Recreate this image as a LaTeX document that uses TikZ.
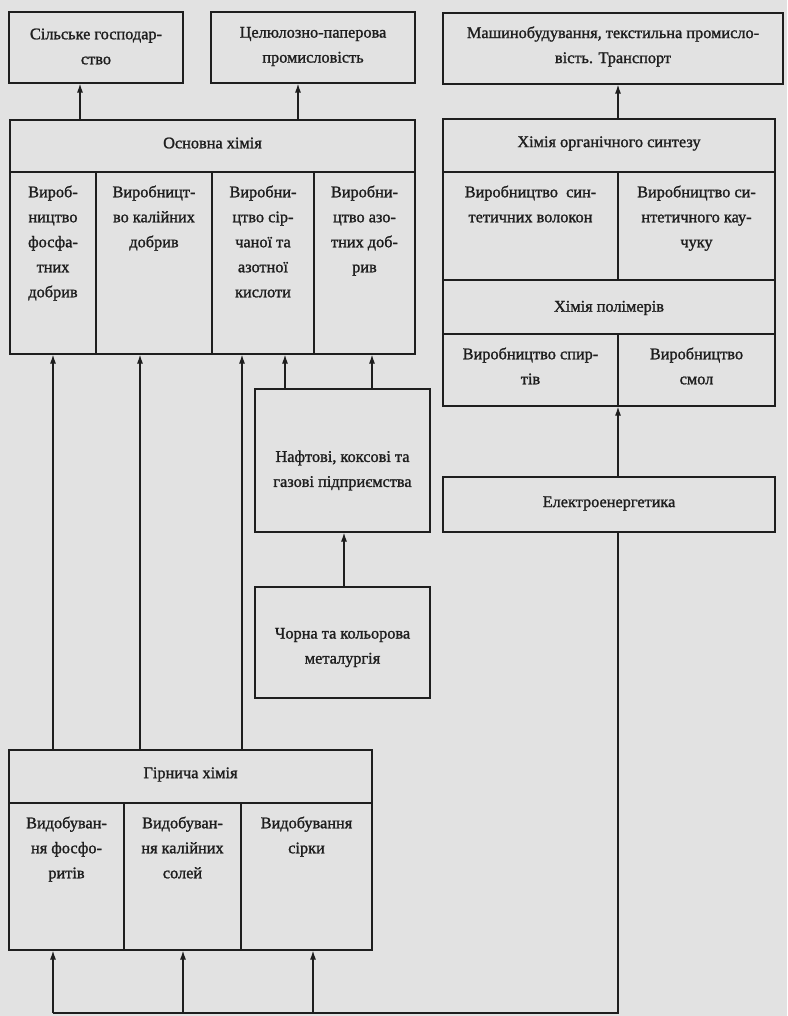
\documentclass[tikz,border=0pt]{standalone}
\usepackage{fontspec}
\setmainfont{Liberation Serif}[FakeBold=1.3]
\usetikzlibrary{fit,arrows.meta}
\definecolor{ink}{HTML}{1E1E1E}
\definecolor{paper}{HTML}{E2E2E2}
\tikzset{
  box/.style={draw=ink, line width=1.2pt, inner sep=0pt},
  lbl/.style={text=ink, align=center, inner sep=0pt, font=\fontsize{16.3}{25}\selectfont},
  toplbl/.style={lbl, anchor=north, yshift=-14pt},
  arr/.style={-{Latex[length=9pt,width=6pt]}, draw=ink, line width=1.2pt},
  wire/.style={draw=ink, line width=1.2pt}
}
\begin{document}
\begin{tikzpicture}[x=1pt,y=-1pt]
\fill[paper] (0,0) rectangle (787,1016);
\useasboundingbox (0,0) rectangle (787,1016);

% top row
\node[box, fit={(9,12) (183,83)}] (s1) {};
\node[lbl] (s1t) at ([yshift=1pt]s1.center) {Сільське господар-\\ство};
\node[box, fit={(211,12) (415,83)}] (s2) {};
\node[lbl] (s2t) at ([yshift=1pt]s2.center) {Целюлозно-паперова\\промисловість};
\node[box, fit={(443,13) (783,84)}] (s3) {};
\node[lbl] (s3t) at ([yshift=2pt]s3.center) {Машинобудування, текстильна промисло-\\вість. Транспорт};

% Основна хімія
\node[box, fit={(10,120) (415,172)}] (osn) {};
\node[lbl] (osnt) at ([yshift=3pt]osn.center) {Основна хімія};
\node[box, fit={(10,172) (96,354)}] (o1) {};
\node[toplbl] (o1t) at (o1.north) {Вироб-\\ництво\\фосфа-\\тних\\добрив};
\node[box, fit={(96,172) (212,354)}] (o2) {};
\node[toplbl] (o2t) at (o2.north) {Виробницт-\\во калійних\\добрив};
\node[box, fit={(212,172) (314,354)}] (o3) {};
\node[toplbl] (o3t) at (o3.north) {Виробни-\\цтво сір-\\чаної та\\азотної\\кислоти};
\node[box, fit={(314,172) (415,354)}] (o4) {};
\node[toplbl] (o4t) at (o4.north) {Виробни-\\цтво азо-\\тних доб-\\рив};

% Хімія органічного синтезу
\node[box, fit={(443,119) (775,172)}] (syn) {};
\node[lbl] (synt) at ([yshift=2pt]syn.center) {Хімія органічного синтезу};
\node[box, fit={(443,172) (618,280)}] (sv) {};
\node[toplbl] (svt) at (sv.north) {Виробництво\enspace син-\\тетичних волокон};
\node[box, fit={(618,172) (775,280)}] (sk) {};
\node[toplbl] (skt) at (sk.north) {Виробництво си-\\нтетичного кау-\\чуку};
\node[box, fit={(443,280) (775,334)}] (pol) {};
\node[lbl] (polt) at ([yshift=-1pt]pol.center) {Хімія полімерів};
\node[box, fit={(443,334) (618,406)}] (sp) {};
\node[toplbl] (spt) at (sp.north) {Виробництво спир-\\тів};
\node[box, fit={(618,334) (775,406)}] (sm) {};
\node[toplbl] (smt) at (sm.north) {Виробництво\\смол};

% Електроенергетика
\node[box, fit={(443,477) (775,532)}] (el) {};
\node[lbl] (elt) at ([yshift=1pt]el.center) {Електроенергетика};

% Нафтові / Чорна
\node[box, fit={(255,389) (430,532)}] (naf) {};
\node[lbl] (naft) at ([yshift=-10pt]naf.center) {Нафтові, коксові та\\газові підприємства};
\node[box, fit={(255,587) (430,698)}] (met) {};
\node[lbl] (mett) at ([yshift=-5pt]met.center) {Чорна та кольорова\\металургія};

% Гірнича хімія
\node[box, fit={(9,750) (372,803)}] (gir) {};
\node[lbl] (girt) at ([yshift=2pt]gir.center) {Гірнича хімія};
\node[box, fit={(9,803) (124,950)}] (g1) {};
\node[toplbl] (g1t) at (g1.north) {Видобуван-\\ня фосфо-\\ритів};
\node[box, fit={(124,803) (241,950)}] (g2) {};
\node[toplbl] (g2t) at (g2.north) {Видобуван-\\ня калійних\\солей};
\node[box, fit={(241,803) (372,950)}] (g3) {};
\node[toplbl] (g3t) at (g3.north) {Видобування\\сірки};

% x positions of connectors
\coordinate (xa) at (80,0);
\coordinate (xb) at (298,0);
\coordinate (xc) at (618,0);
\coordinate (x1) at (53,0);
\coordinate (x2) at (140,0);
\coordinate (x3) at (242,0);
\coordinate (x4) at (285,0);
\coordinate (x5) at (372,0);
\coordinate (x6) at (344,0);
\coordinate (x7) at (183,0);
\coordinate (x8) at (313,0);
\coordinate (bl) at (53,1013);
\coordinate (br) at (618,1013);

% arrows upward
\draw[arr] (osn.north -| xa) -- (s1.south -| xa);
\draw[arr] (osn.north -| xb) -- (s2.south -| xb);
\draw[arr] (syn.north -| xc) -- (s3.south -| xc);
\draw[arr] (gir.north -| x1) -- (o1.south -| x1);
\draw[arr] (gir.north -| x2) -- (o2.south -| x2);
\draw[arr] (gir.north -| x3) -- (o3.south -| x3);
\draw[arr] (naf.north -| x4) -- (o3.south -| x4);
\draw[arr] (naf.north -| x5) -- (o4.south -| x5);
\draw[arr] (met.north -| x6) -- (naf.south -| x6);
\draw[arr] (el.north -| xc) -- (sp.south -| xc);
\draw[wire] (el.south -| xc) -- (br) -- (bl);
\draw[arr] (bl) -- (g1.south -| x1);
\draw[arr] (bl -| x7) -- (g2.south -| x7);
\draw[arr] (bl -| x8) -- (g3.south -| x8);
\end{tikzpicture}
\end{document}
